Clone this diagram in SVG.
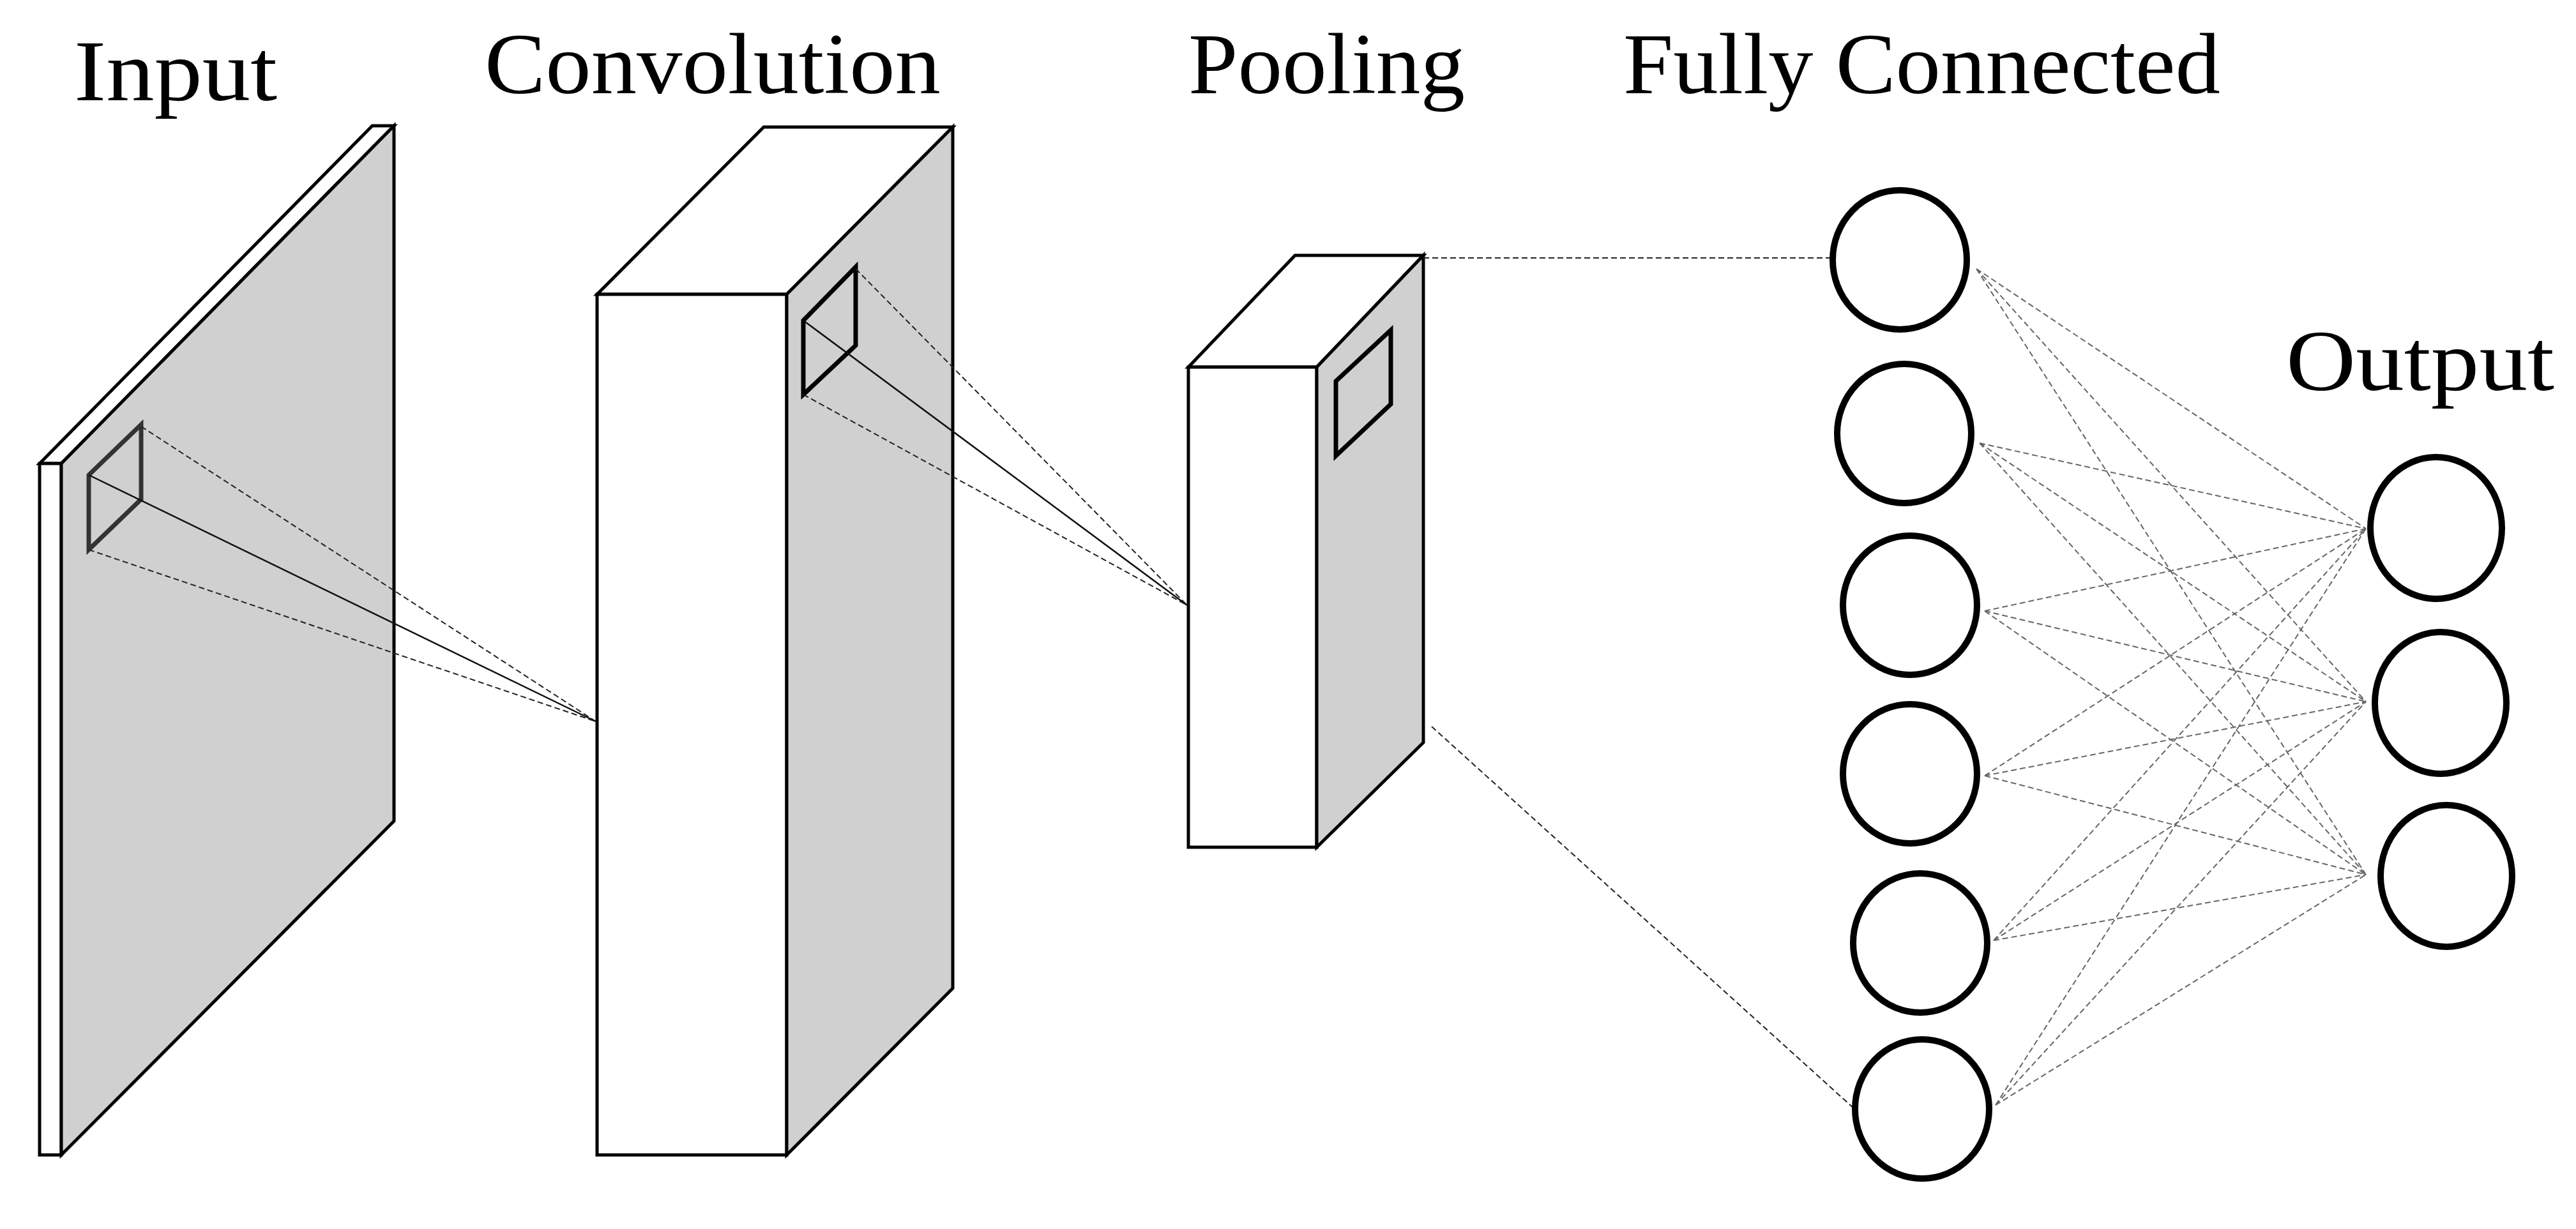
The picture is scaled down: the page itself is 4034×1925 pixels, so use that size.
<svg xmlns="http://www.w3.org/2000/svg" width="4034" height="1925" viewBox="0 0 4034 1925">
<style>
.t{font-family:"Liberation Serif","DejaVu Serif",serif;font-size:136px;fill:#000}
.s{stroke:#000;stroke-width:5;stroke-linejoin:miter}
.g{fill:#d0d0d0}
.w{fill:#fff}
.k{fill:none;stroke:#000;stroke-width:7}
.d{stroke:#222;stroke-width:2;stroke-dasharray:9 5;fill:none}
.f{stroke:#666;stroke-width:2;stroke-dasharray:9 5;fill:none}
.n{fill:#fff;stroke:#000;stroke-width:10}
</style>
<rect width="4034" height="1925" fill="#fff"/>
<g id="labels">
<text class="t" x="116" y="157" textLength="318" lengthAdjust="spacingAndGlyphs">Input</text>
<text class="t" x="759" y="146" textLength="714" lengthAdjust="spacingAndGlyphs">Convolution</text>
<text class="t" x="1861" y="146" textLength="433" lengthAdjust="spacingAndGlyphs">Pooling</text>
<text class="t" x="2542" y="146" textLength="935" lengthAdjust="spacingAndGlyphs">Fully Connected</text>
<text class="t" x="3580" y="611" textLength="420" lengthAdjust="spacingAndGlyphs">Output</text>
</g>
<g id="input">
<polygon class="s w" points="62,726 583,197 617,197 96,726"/>
<rect class="s w" x="62" y="726" width="34" height="1083"/>
<polygon class="s g" points="96,726 617,197 617,1286 96,1809"/>
<polygon class="k" points="139,744 221,665 221,782 139,861" style="stroke:#333"/>
</g>
<g id="convolution">
<polygon class="s w" points="935,461 1196,199 1492,199 1232,461"/>
<rect class="s w" x="935" y="461" width="297" height="1348"/>
<polygon class="s g" points="1232,461 1492,199 1492,1548 1232,1809"/>
<polygon class="k" points="1258,502 1340,418 1340,541 1258,618"/>
</g>
<g id="pooling">
<polygon class="s w" points="1861,575 2028,400 2229,400 2062,575"/>
<rect class="s w" x="1861" y="575" width="201" height="752"/>
<polygon class="s g" points="2062,575 2229,400 2229,1163 2062,1327"/>
<polygon class="k" points="2092,597 2178,517 2178,633 2092,714"/>
</g>
<g id="connectors">
<line class="d" x1="221" y1="668" x2="933" y2="1130"/>
<line x1="139" y1="744" x2="933" y2="1130" stroke="#111" stroke-width="2.5"/>
<line class="d" x1="139" y1="861" x2="933" y2="1130"/>
<line class="d" x1="1340" y1="421" x2="1859" y2="948"/>
<line x1="1258" y1="502" x2="1859" y2="948" stroke="#111" stroke-width="2.5"/>
<line class="d" x1="1258" y1="618" x2="1859" y2="948"/>
<line class="d" x1="2229" y1="404" x2="2866" y2="404"/>
<line class="d" x1="2242" y1="1138" x2="2902" y2="1735"/>
<g class="f">
<path d="M3095,421L3705,828M3095,421L3705,1099M3095,421L3705,1370"/>
<path d="M3100,694L3705,828M3100,694L3705,1099M3100,694L3705,1370"/>
<path d="M3108,957L3705,828M3108,957L3705,1099M3108,957L3705,1370"/>
<path d="M3108,1215L3705,828M3108,1215L3705,1099M3108,1215L3705,1370"/>
<path d="M3122,1473L3705,828M3122,1473L3705,1099M3122,1473L3705,1370"/>
<path d="M3125,1731L3705,828M3125,1731L3705,1099M3125,1731L3705,1370"/>
</g>
</g>
<g id="fc1"><ellipse class="n" cx="2975" cy="407" rx="105" ry="109"/></g>
<g id="fc2"><ellipse class="n" cx="2982" cy="679" rx="105" ry="109"/></g>
<g id="fc3"><ellipse class="n" cx="2991" cy="948" rx="105" ry="109"/></g>
<g id="fc4"><ellipse class="n" cx="2991" cy="1212" rx="105" ry="109"/></g>
<g id="fc5"><ellipse class="n" cx="3007" cy="1477" rx="105" ry="109"/></g>
<g id="fc6"><ellipse class="n" cx="3010" cy="1737" rx="105" ry="109"/></g>
<g id="out1"><ellipse class="n" cx="3815" cy="827" rx="103" ry="111"/></g>
<g id="out2"><ellipse class="n" cx="3822" cy="1101" rx="103" ry="111"/></g>
<g id="out3"><ellipse class="n" cx="3831" cy="1372" rx="103" ry="111"/></g>
</svg>
